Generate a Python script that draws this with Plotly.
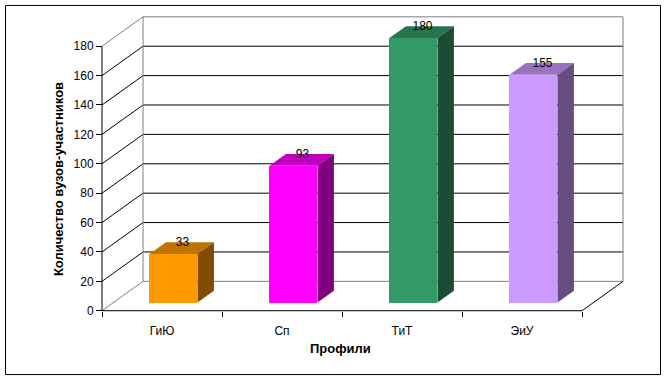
import plotly.graph_objects as go

# ---- data ----
categories = ["ГиЮ", "Сп", "ТиТ", "ЭиУ"]
values = [33, 93, 180, 155]
y_ticks = [0, 20, 40, 60, 80, 100, 120, 140, 160, 180]
x_title = "Профили"
y_title = "Количество вузов-участников"

# ---- style ----
front_colors = ["#FF9900", "#FF00FF", "#339966", "#CC99FF"]
top_colors = ["#BF7300", "#BF00BF", "#267350", "#9973BF"]
side_colors = ["#804D00", "#800080", "#1A4D33", "#664D80"]
FONT = "Liberation Sans, Arial, sans-serif"

W, H = 669, 385
DX, DY = 0.342, 20.0          # full-depth offset in (category, value) units
FD, BD = 0.28, 0.40           # bar front depth fraction, bar depth fraction
BW = 0.40                     # bar width (category units)
ymax = y_ticks[-1]
n = len(categories)

# pixel geometry of the plot region
PX_X0, PX_PER_CAT = 102, 120.0
PX_Y0, PX_PER_VAL = 314, 1.485
xr = [-0.6, n - 0.5 + DX + 0.1]
yr = [-2, ymax + DY + 2]
xd = [(PX_X0 + (xr[0] + 0.5) * PX_PER_CAT) / W, (PX_X0 + (xr[1] + 0.5) * PX_PER_CAT) / W]
yd = [(H - (PX_Y0 - yr[0] * PX_PER_VAL)) / H, (H - (PX_Y0 - yr[1] * PX_PER_VAL)) / H]

fig = go.Figure()

# front faces
fig.add_trace(go.Bar(
    x=[i + FD * DX for i in range(n)], y=values, base=FD * DY, width=BW,
    marker=dict(color=front_colors, line=dict(width=0)),
    hoverinfo="skip", showlegend=False))

# top and side faces
for i, v in enumerate(values):
    x0 = i - BW / 2 + FD * DX
    x1 = x0 + BW
    b0 = FD * DY
    ddx, ddy = BD * DX, BD * DY
    fig.add_trace(go.Scatter(
        x=[x0, x1, x1 + ddx, x0 + ddx, x0],
        y=[v + b0, v + b0, v + b0 + ddy, v + b0 + ddy, v + b0],
        fill="toself", fillcolor=top_colors[i], mode="lines",
        line=dict(width=0, color=top_colors[i]), hoverinfo="skip", showlegend=False))
    fig.add_trace(go.Scatter(
        x=[x1, x1, x1 + ddx, x1 + ddx, x1],
        y=[b0, v + b0, v + b0 + ddy, b0 + ddy, b0],
        fill="toself", fillcolor=side_colors[i], mode="lines",
        line=dict(width=0, color=side_colors[i]), hoverinfo="skip", showlegend=False))

# data labels
fig.add_trace(go.Scatter(
    x=[i + 0.5 * DX for i in range(n)], y=[v + 0.5 * DY + 3 for v in values],
    mode="text", text=[str(v) for v in values], textposition="middle center",
    textfont=dict(family=FONT, size=12, color="black"),
    hoverinfo="skip", showlegend=False))

shapes = []
GRAY, BLACK = "#808080", "#000000"
L, R = -0.5, n - 0.5


def seg(x0, y0, x1, y1, color):
    shapes.append(dict(type="line", xref="x", yref="y", x0=x0, y0=y0, x1=x1, y1=y1,
                       line=dict(color=color, width=1), layer="below"))


# walls / gridlines
for t in y_ticks[1:-1]:
    seg(L + DX, t + DY, R + DX, t + DY, BLACK)
    seg(L, t, L + DX, t + DY, BLACK)
seg(L + DX, DY, L + DX, ymax + DY, GRAY)
seg(L + DX, ymax + DY, R + DX, ymax + DY, GRAY)
seg(R + DX, DY, R + DX, ymax + DY, GRAY)
seg(L + DX, DY, R + DX, DY, GRAY)
seg(L, ymax, L + DX, ymax + DY, GRAY)
seg(L, 0, L + DX, DY, GRAY)
# front axes
seg(L, 0, L, ymax, BLACK)
seg(L, 0, R, 0, BLACK)
seg(R, 0, R + DX, DY, BLACK)

# outer frame
shapes.append(dict(type="rect", xref="paper", yref="paper",
                   x0=5.5 / W, x1=660.5 / W, y0=1 - 378.5 / H, y1=1 - 5.5 / H,
                   line=dict(color="black", width=1), fillcolor="rgba(0,0,0,0)"))

fig.update_layout(
    width=W, height=H, margin=dict(l=0, r=0, t=0, b=0),
    paper_bgcolor="white", plot_bgcolor="white",
    shapes=shapes, bargap=0,
    xaxis=dict(range=xr, domain=xd, anchor="free", position=(H - PX_Y0) / H,
               tickmode="array", tickvals=list(range(n)), ticktext=categories,
               ticks="outside", ticklen=9, tickcolor="rgba(0,0,0,0)",
               showgrid=False, zeroline=False, showline=False,
               tickfont=dict(family=FONT, size=12, color="black"),
               minor=dict(tickmode="array", tickvals=[k - 0.5 for k in range(n + 1)],
                          ticks="outside", ticklen=5, tickcolor="black", tickwidth=1,
                          showgrid=False),
               fixedrange=True),
    yaxis=dict(range=yr, domain=yd, anchor="free", position=PX_X0 / W,
               tickmode="array", tickvals=y_ticks, ticks="outside", ticklen=6,
               tickcolor="black", tickwidth=1, showgrid=False, zeroline=False,
               showline=False, tickfont=dict(family=FONT, size=12, color="black"),
               fixedrange=True),
    annotations=[
        dict(text="<b>" + x_title + "</b>", xref="paper", yref="paper",
             x=341 / W, y=1 - 352 / H, xanchor="center", yanchor="middle",
             showarrow=False, font=dict(family=FONT, size=13, color="black")),
        dict(text="<b>" + y_title + "</b>", xref="paper", yref="paper",
             x=58 / W, y=1 - 181 / H, xanchor="center", yanchor="middle",
             showarrow=False, textangle=-90,
             font=dict(family=FONT, size=13, color="black")),
    ],
)

fig.write_html("out.html", config={"displayModeBar": False},
               post_script="document.body.style.margin='0px';")
